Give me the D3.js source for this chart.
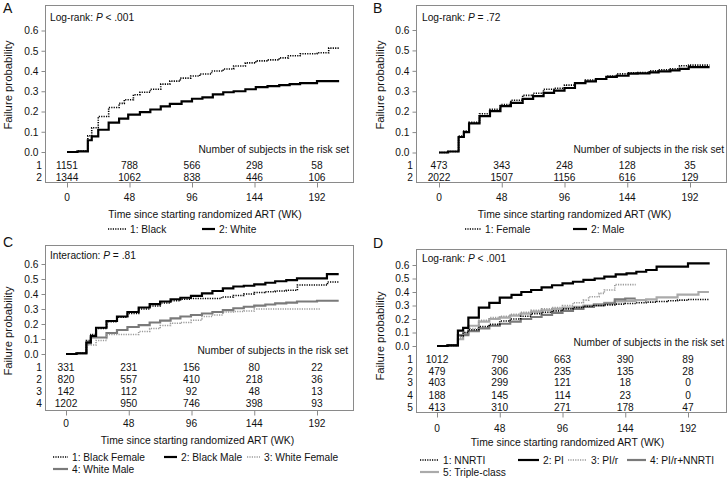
<!DOCTYPE html>
<html><head><meta charset="utf-8">
<script src="https://cdn.jsdelivr.net/npm/d3@7"></script>
<style>body{margin:0;background:#fff}svg{display:block}text{font-family:"Liberation Sans",Arial,sans-serif;fill:#111}</style>
</head><body><svg id="c" width="727" height="479"></svg>
<script>
// ---------- DATA ----------
const xTicks = [0, 48, 96, 144, 192];
const yTicks = [0, 0.1, 0.2, 0.3, 0.4, 0.5, 0.6];

// Panel A: race
const seriesA_names = ["1: Black", "2: White"];
const curveA_black = [[0,0],[8,0.005],[16,0.08],[19,0.12],[24,0.175],[32,0.22],[40,0.24],[44,0.258],[51,0.283],[56,0.295],[64,0.31],[72,0.335],[79,0.35],[87,0.365],[95,0.375],[102,0.385],[111,0.40],[120,0.41],[128,0.425],[137,0.44],[145,0.45],[154,0.455],[163,0.465],[170,0.475],[179,0.485],[192,0.49],[201,0.513],[209,0.513]];
const curveA_white = [[0,0],[8,0.003],[16,0.058],[19,0.077],[24,0.11],[32,0.145],[40,0.165],[47,0.185],[56,0.197],[64,0.21],[72,0.225],[79,0.238],[88,0.25],[96,0.263],[104,0.27],[112,0.285],[120,0.295],[128,0.30],[137,0.31],[145,0.32],[154,0.325],[163,0.33],[171,0.335],[179,0.34],[192,0.35],[209,0.35]];
const riskA_black = [1151, 788, 566, 298, 58];
const riskA_white = [1344, 1062, 838, 446, 106];

// Panel B: sex
const seriesB_names = ["1: Female", "2: Male"];
const curveB_female = [[0,0],[7,0.005],[15,0.08],[19,0.105],[23,0.148],[31,0.19],[39,0.212],[47,0.235],[55,0.256],[64,0.28],[72,0.29],[80,0.31],[88,0.315],[96,0.33],[104,0.34],[112,0.355],[120,0.36],[128,0.375],[136,0.385],[145,0.39],[152,0.392],[161,0.40],[168,0.405],[177,0.41],[184,0.425],[191,0.428],[207,0.428]];
const curveB_male = [[0,0],[7,0.005],[15,0.076],[19,0.10],[23,0.143],[31,0.178],[39,0.203],[47,0.227],[55,0.243],[64,0.263],[72,0.276],[80,0.292],[88,0.303],[96,0.316],[104,0.34],[112,0.348],[120,0.36],[128,0.37],[136,0.376],[145,0.386],[152,0.388],[161,0.392],[168,0.397],[177,0.402],[184,0.41],[191,0.418],[207,0.418]];
const riskB_female = [473, 343, 248, 128, 35];
const riskB_male = [2022, 1507, 1156, 616, 129];

// Panel C: race x sex
const seriesC_names = ["1: Black Female", "2: Black Male", "3: White Female", "4: White Male"];
const curveC_blackFemale = [[0,0],[8,0.005],[15.6,0.09],[19,0.13],[23,0.17],[31,0.215],[39,0.245],[47,0.27],[55.6,0.30],[64,0.32],[72,0.34],[80,0.355],[87.5,0.365],[95.6,0.37],[119,0.38],[128,0.39],[136,0.40],[144,0.41],[152,0.415],[160,0.42],[168.5,0.425],[177,0.46],[200,0.48],[208.6,0.48]];
const curveC_blackMale = [[0,0],[8,0.005],[15.6,0.078],[19,0.12],[23,0.175],[31,0.22],[39,0.25],[47,0.28],[55.6,0.31],[64,0.333],[72,0.35],[80,0.365],[87.5,0.375],[95.6,0.387],[104,0.404],[112,0.42],[120,0.437],[128,0.45],[136,0.455],[144,0.464],[152.5,0.475],[160,0.485],[168.5,0.493],[176.7,0.504],[199.6,0.533],[208.6,0.533]];
const curveC_whiteFemale = [[0,0],[8,0.003],[15.6,0.06],[23,0.09],[31,0.13],[55.6,0.15],[64,0.17],[72,0.19],[80,0.205],[87.5,0.21],[95.6,0.225],[104,0.25],[112,0.26],[120,0.28],[128,0.283],[136,0.287],[144,0.30],[194.5,0.30]];
const curveC_whiteMale = [[0,0],[8,0.004],[15.6,0.07],[19,0.11],[31,0.14],[39,0.16],[47,0.18],[55.6,0.193],[64,0.21],[72,0.222],[80,0.238],[87.5,0.25],[95.6,0.26],[104,0.27],[112,0.28],[120,0.293],[128,0.305],[136,0.315],[144,0.322],[152.5,0.33],[160,0.338],[168.5,0.342],[176.7,0.35],[192,0.355],[208.6,0.355]];
const riskC_blackFemale = [331, 231, 156, 80, 22];
const riskC_blackMale = [820, 557, 410, 218, 36];
const riskC_whiteFemale = [142, 112, 92, 48, 13];
const riskC_whiteMale = [1202, 950, 746, 398, 93];

// Panel D: regimen
const seriesD_names = ["1: NNRTI", "2: PI", "3: PI/r", "4: PI/r+NNRTI", "5: Triple-class"];
const curveD_nnrti = [[0,0],[8,0.005],[16,0.075],[20,0.10],[24,0.12],[32,0.145],[40,0.16],[48,0.185],[56,0.20],[64,0.22],[72,0.24],[80,0.25],[88,0.26],[96,0.275],[104,0.285],[112,0.295],[120,0.30],[128,0.305],[136,0.31],[144,0.315],[152,0.32],[160,0.325],[168,0.33],[176,0.335],[184,0.34],[192,0.345],[208,0.345]];
const curveD_pi = [[0,0],[8,0.005],[16,0.114],[20,0.135],[24,0.21],[32,0.284],[40,0.32],[48,0.358],[57,0.378],[64.5,0.40],[72,0.415],[80,0.435],[88,0.45],[96,0.464],[104,0.476],[112,0.49],[120.6,0.50],[128,0.514],[136.7,0.53],[145,0.538],[152.5,0.55],[160,0.563],[168,0.588],[192,0.612],[208.6,0.612]];
const curveD_pir = [[0,0],[8,0.004],[16,0.06],[20,0.10],[24,0.13],[32,0.19],[40,0.21],[48,0.22],[56,0.235],[64,0.25],[72,0.265],[80,0.275],[88,0.285],[96,0.30],[104,0.32],[112,0.34],[116,0.365],[124,0.39],[128,0.415],[136,0.455],[152,0.455]];
const curveD_pirNnrti = [[0,0],[8,0.004],[16,0.08],[24,0.11],[32,0.13],[40,0.15],[48,0.165],[56,0.18],[64,0.20],[72,0.215],[80,0.23],[88,0.245],[96,0.26],[104,0.275],[112,0.29],[120,0.30],[128,0.315],[136,0.345],[144,0.352],[152,0.352]];
const curveD_triple = [[0,0],[8,0.004],[16,0.05],[20,0.09],[24,0.15],[32,0.18],[40,0.20],[48,0.21],[56,0.225],[64,0.24],[72,0.255],[80,0.265],[88,0.275],[96,0.285],[104,0.29],[112,0.30],[120,0.31],[128,0.32],[136,0.33],[144,0.335],[152,0.34],[160,0.345],[168,0.36],[184,0.38],[200,0.40],[208,0.40]];
const riskD_nnrti = [1012, 790, 663, 390, 89];
const riskD_pi = [479, 306, 235, 135, 28];
const riskD_pir = [403, 299, 121, 18, 0];
const riskD_pirNnrti = [188, 145, 114, 23, 0];
const riskD_triple = [413, 310, 271, 178, 47];

// ---------- STYLES ----------
const ST = {
  blackDot:  {stroke:"#000", w:1.6, dash:"1.2,1.2"},
  black:     {stroke:"#000", w:2.2, dash:null},
  greyDot:   {stroke:"#9a9a9a", w:1.6, dash:"1.2,1.2"},
  grey:      {stroke:"#7a7a7a", w:2.2, dash:null},
  lightGrey: {stroke:"#aaaaaa", w:2.2, dash:null}
};

// ---------- LAYOUT ----------
const panels = [
  {letter:"A", lx:3, ly:13, box:[45,5,353,182], xr:[67,317], yr:[152,30.5],
   ann:["Log-rank: ","P"," < .001"], ax:50, ay:21, nsx:349, nsy:153,
   riskY:[168.5,180.5], tickY:200.5, titleX:205, titleY:217.5, ytx:12, yty:85,
   series:[{d:curveA_black,s:ST.blackDot,n:seriesA_names[0],r:riskA_black},
           {d:curveA_white,s:ST.black,n:seriesA_names[1],r:riskA_white}],
   legend:[[0,108,126,232.5],[1,202,215,232.5]]},
  {letter:"B", lx:373, ly:13, box:[416,5,726,182], xr:[439,690], yr:[152.5,30],
   ann:["Log-rank: ","P"," = .72"], ax:422, ay:21, nsx:724, nsy:153,
   riskY:[168.5,180.5], tickY:200.5, titleX:574.5, titleY:217.5, ytx:384, yty:85,
   series:[{d:curveB_female,s:ST.blackDot,n:seriesB_names[0],r:riskB_female},
           {d:curveB_male,s:ST.black,n:seriesB_names[1],r:riskB_male}],
   legend:[[0,465,481,232.5],[1,573,587,232.5]]},
  {letter:"C", lx:3, ly:247, box:[45,245,353,410], xr:[66,317], yr:[354,264],
   ann:["Interaction: ","P"," = .81"], ax:50, ay:258.5, nsx:348, nsy:353.5,
   riskY:[370.5,382.5,394.5,406.5], tickY:426.5, titleX:197.5, titleY:443.5, ytx:12, yty:331,
   series:[{d:curveC_blackFemale,s:ST.blackDot,n:seriesC_names[0],r:riskC_blackFemale},
           {d:curveC_blackMale,s:ST.black,n:seriesC_names[1],r:riskC_blackMale},
           {d:curveC_whiteFemale,s:ST.greyDot,n:seriesC_names[2],r:riskC_whiteFemale},
           {d:curveC_whiteMale,s:ST.grey,n:seriesC_names[3],r:riskC_whiteMale}],
   legend:[[0,53,68,460.5],[1,164,177,460.5],[2,247,260,460.5],[3,53,68,472.5]]},
  {letter:"D", lx:373, ly:248, box:[416,249,726,412], xr:[437,688], yr:[346,265],
   ann:["Log-rank: ","P"," < .001"], ax:422, ay:261.5, nsx:724, nsy:345.5,
   riskY:[362.5,374.5,385.5,398.5,410.5], tickY:431.5, titleX:567.5, titleY:445.5, ytx:384, yty:336,
   series:[{d:curveD_nnrti,s:ST.blackDot,n:seriesD_names[0],r:riskD_nnrti},
           {d:curveD_pi,s:ST.black,n:seriesD_names[1],r:riskD_pi},
           {d:curveD_pir,s:ST.greyDot,n:seriesD_names[2],r:riskD_pir},
           {d:curveD_pirNnrti,s:ST.grey,n:seriesD_names[3],r:riskD_pirNnrti},
           {d:curveD_triple,s:ST.lightGrey,n:seriesD_names[4],r:riskD_triple}],
   legend:[[0,420,439,463.5],[1,518,539,463.5],[2,568,587,463.5],[3,627,646,463.5],[4,420,439,475.5]]}
];

const svg = d3.select("#c");
const FS = 10.2;

panels.forEach(p => {
  const g = svg.append("g");
  const [bx0,by0,bx1,by1] = p.box;
  const x = d3.scaleLinear().domain([0,192]).range(p.xr);
  const y = d3.scaleLinear().domain([0,0.6]).range(p.yr);

  // letter
  g.append("text").attr("x",p.lx).attr("y",p.ly).attr("font-size",14).text(p.letter);

  // curves
  const line = d3.line().x(d=>x(d[0])).y(d=>y(d[1])).curve(d3.curveStepAfter);
  p.series.slice().reverse().forEach(s => {
    g.append("path").attr("d", line(s.d)).attr("fill","none")
      .attr("stroke", s.s.stroke).attr("stroke-width", s.s.w)
      .attr("stroke-dasharray", s.s.dash);
  });

  // box
  g.append("rect").attr("x",bx0+0.5).attr("y",by0+0.5).attr("width",bx1-bx0).attr("height",by1-by0)
    .attr("fill","none").attr("stroke","#8a8a8a").attr("stroke-width",1);

  // y axis
  const ya = d3.axisLeft(y).tickValues(yTicks).tickFormat(d3.format(".1f")).tickSize(4).tickPadding(3);
  const yg = g.append("g").attr("transform",`translate(${bx0+0.5},0)`).call(ya);
  yg.select(".domain").remove();
  yg.selectAll("line").attr("stroke","#8a8a8a");
  yg.selectAll("text").attr("font-size",FS).attr("font-family","Liberation Sans, Arial, sans-serif").attr("fill","#111");

  // x axis ticks
  const xa = d3.axisBottom(x).tickValues(xTicks).tickSize(5).tickFormat("");
  const xg = g.append("g").attr("transform",`translate(0,${by1+0.5})`).call(xa);
  xg.select(".domain").remove();
  xg.selectAll("line").attr("stroke","#8a8a8a");
  g.selectAll(null).data(xTicks).enter().append("text")
    .attr("x",d=>x(d)).attr("y",p.tickY).attr("text-anchor","middle").attr("font-size",FS).text(d=>d);

  // titles
  g.append("text").attr("x",p.titleX).attr("y",p.titleY).attr("text-anchor","middle")
    .attr("font-size",10.4).text("Time since starting randomized ART (WK)");
  g.append("text").attr("transform",`translate(${p.ytx},${p.yty}) rotate(-90)`)
    .attr("text-anchor","middle").attr("font-size",11.3).text("Failure probability");

  // annotation
  const at = g.append("text").attr("x",p.ax).attr("y",p.ay).attr("font-size",FS);
  at.append("tspan").text(p.ann[0]);
  at.append("tspan").attr("font-style","italic").text(p.ann[1]);
  at.append("tspan").text(p.ann[2]);
  g.append("text").attr("x",p.nsx).attr("y",p.nsy).attr("text-anchor","end").attr("font-size",FS)
    .text("Number of subjects in the risk set");

  // risk table
  p.series.forEach((s,i) => {
    g.append("text").attr("x",bx0-3).attr("y",p.riskY[i]).attr("text-anchor","end").attr("font-size",FS).text(i+1);
    g.selectAll(null).data(s.r).enter().append("text")
      .attr("x",(d,j)=>x(xTicks[j])).attr("y",p.riskY[i]).attr("text-anchor","middle").attr("font-size",FS).text(d=>d);
  });

  // legend
  p.legend.forEach(([i,x0,x1,ly]) => {
    const s = p.series[i];
    g.append("line").attr("x1",x0).attr("x2",x1).attr("y1",ly-3.5).attr("y2",ly-3.5)
      .attr("stroke",s.s.stroke).attr("stroke-width",s.s.w).attr("stroke-dasharray",s.s.dash);
    g.append("text").attr("x",x1+4).attr("y",ly).attr("font-size",FS).text(s.n);
  });
});
</script></body></html>
